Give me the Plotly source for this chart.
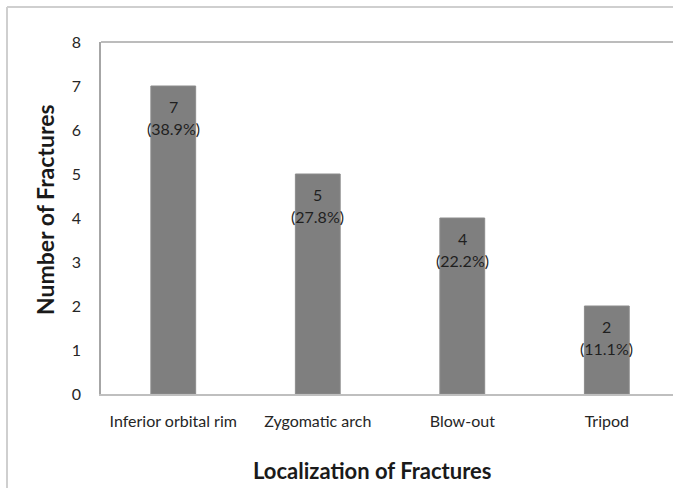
import plotly.graph_objects as go

categories = ["Inferior orbital rim", "Zygomatic arch", "Blow-out", "Tripod"]
counts = [7, 5, 4, 2]
percent_labels = ["(38.9%)", "(27.8%)", "(22.2%)", "(11.1%)"]
y_ticks = [0, 1, 2, 3, 4, 5, 6, 7, 8]

FONT = "Lato, Carlito, Calibri, sans-serif"
W, H = 673, 488
L, T, B = 101, 42, 94
PW, PH = W - L, H - T - B


def px(x):  # page x -> paper
    return (x - L) / PW


def py(y):  # page y -> paper
    return (H - B - y) / PH


fig = go.Figure()
fig.add_trace(go.Bar(
    x=categories, y=counts, width=0.31,
    marker=dict(color="#7f7f7f", line=dict(color="#8c8c8c", width=1)),
    hoverinfo="x+y",
))

for cat, c, p in zip(categories, counts, percent_labels):
    fig.add_annotation(x=cat, y=c, text=str(c), showarrow=False, yanchor="middle",
                       yshift=-20, font=dict(family=FONT, size=16, color="#1f1f1f"))
    fig.add_annotation(x=cat, y=c, text=p, showarrow=False, yanchor="middle",
                       yshift=-42, font=dict(family=FONT, size=16, color="#1f1f1f"))

# axis titles
fig.add_annotation(x=px(372), xref="paper", y=py(470), yref="paper", yanchor="middle",
                   text="<b>Localization of Fractures</b>", showarrow=False,
                   font=dict(family=FONT, size=22, color="#1a1a1a"))
fig.add_annotation(x=px(45), xref="paper", y=py(210), yref="paper", xanchor="center", yanchor="middle",
                   text="<b>Number of Fractures</b>", showarrow=False, textangle=-90,
                   font=dict(family=FONT, size=23, color="#1a1a1a"))

# outer frame (top/left) and plot-area top border
fig.add_shape(type="line", xref="paper", yref="paper", x0=px(7), x1=px(680), y0=py(7), y1=py(7),
              line=dict(color="#cfcfcf", width=2), layer="above")
fig.add_shape(type="line", xref="paper", yref="paper", x0=px(7), x1=px(7), y0=py(7), y1=py(495),
              line=dict(color="#cfcfcf", width=2), layer="above")
fig.add_shape(type="line", xref="paper", yref="paper", x0=0, x1=px(680), y0=1, y1=1,
              line=dict(color="#a6a6a6", width=1.5))

fig.update_layout(
    width=W, height=H,
    margin=dict(l=L, r=0, t=T, b=B),
    paper_bgcolor="white", plot_bgcolor="white",
    showlegend=False,
    font=dict(family=FONT, color="#333333"),
    xaxis=dict(range=[-0.5, 3.458], showgrid=False, showline=True, linecolor="#bfbfbf",
               linewidth=1.5, ticks="", tickfont=dict(family=FONT, size=16, color="#262626"),
               ticklabelstandoff=12, zeroline=False),
    yaxis=dict(range=[0, 8], tickvals=y_ticks, showgrid=False, showline=True,
               linecolor="#a6a6a6", linewidth=1.5, ticks="", zeroline=False,
               tickfont=dict(family=FONT, size=16, color="#262626"), ticklabelstandoff=15),
)

fig.write_html("out.html", config={"displayModeBar": False},
               post_script="document.body.style.margin='0';document.body.style.overflow='hidden';")
